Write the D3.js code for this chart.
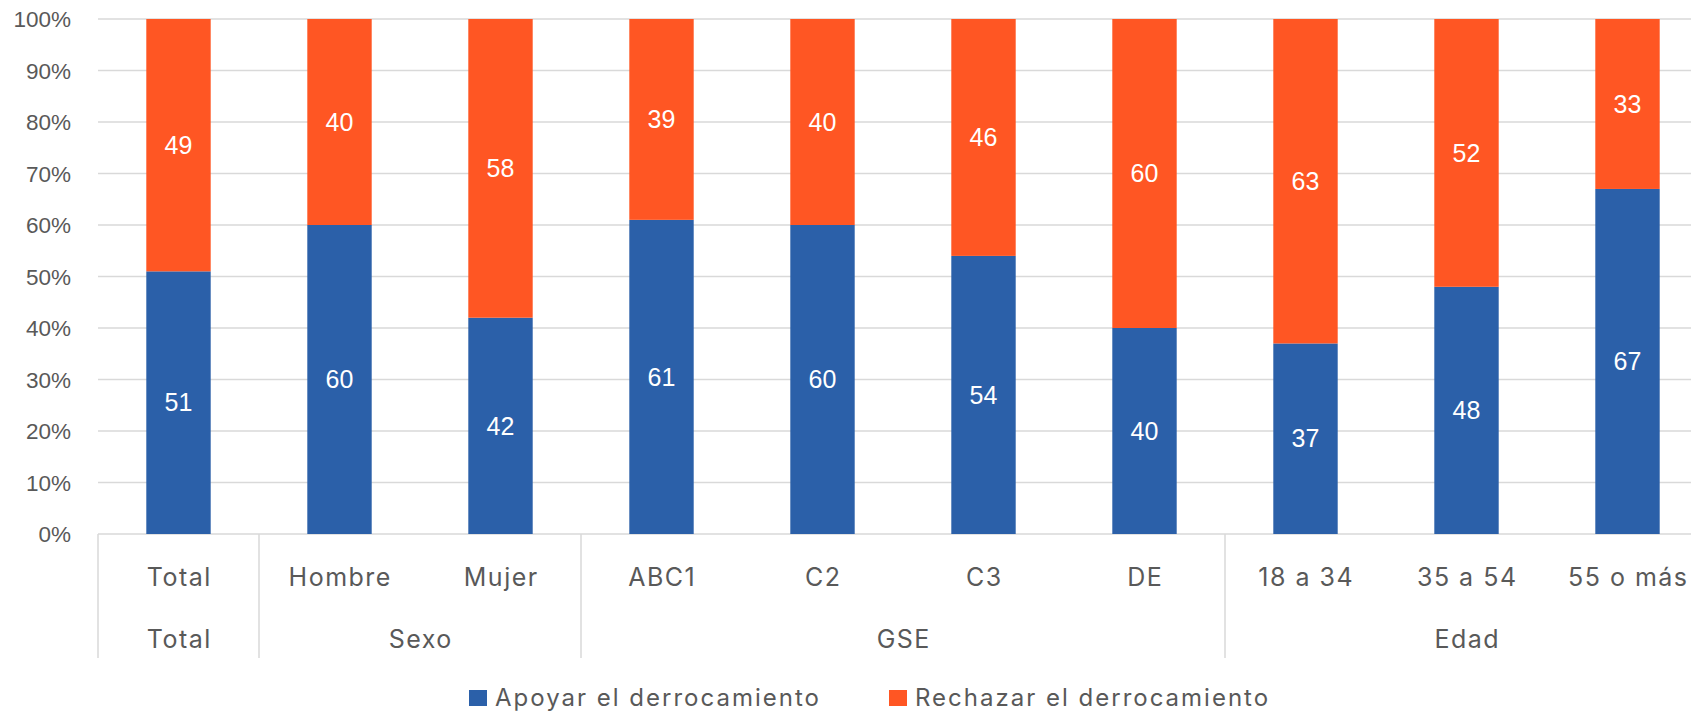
<!DOCTYPE html>
<html>
<head>
<meta charset="utf-8">
<script src="https://cdn.jsdelivr.net/npm/d3@7"></script>
<style>
  html, body { margin: 0; padding: 0; background: #fff; overflow: hidden; }
  svg { display: block; }
</style>
</head>
<body>
<svg id="chart" width="1691" height="714"></svg>
<script>
const categories = ["Total", "Hombre", "Mujer", "ABC1", "C2", "C3", "DE", "18 a 34", "35 a 54", "55 o más"];
const categoryGroups = ["Total", "Sexo", "Sexo", "GSE", "GSE", "GSE", "GSE", "Edad", "Edad", "Edad"];
const apoyar = [51, 60, 42, 61, 60, 54, 40, 37, 48, 67];
const rechazar = [49, 40, 58, 39, 40, 46, 60, 63, 52, 33];
const seriesNames = ["Apoyar el derrocamiento", "Rechazar el derrocamiento"];
const yTickValues = [0, 10, 20, 30, 40, 50, 60, 70, 80, 90, 100];
const yTickLabels = ["0%", "10%", "20%", "30%", "40%", "50%", "60%", "70%", "80%", "90%", "100%"];

(function () {
const colors = ["#2B60A9", "#FF5623"];
const gridColor = "#d9d9d9";
const textColor = "#595959";
const catFont = "Inter, 'Open Sans', sans-serif";
const numFont = "'Liberation Sans', Arial, sans-serif";

const svg = d3.select("#chart");
const plotLeft = 98, plotTop = 19, plotBottom = 534;
const step = 161;

const x = d3.scaleBand().domain(categories).range([plotLeft, plotLeft + step * categories.length])
  .paddingInner(0.6).paddingOuter(0.3);
const y = d3.scaleLinear().domain([0, 100]).range([plotBottom, plotTop]);

// gridlines
svg.append("g").selectAll("line").data(yTickValues).join("line")
  .attr("x1", plotLeft).attr("x2", 1691)
  .attr("y1", d => y(d)).attr("y2", d => y(d))
  .attr("stroke", gridColor).attr("stroke-width", 1.5);

// y axis labels
const yAxis = d3.axisLeft(y).tickValues(yTickValues).tickFormat((d, i) => yTickLabels[i]).tickSize(0).tickPadding(0);
const yg = svg.append("g").attr("transform", `translate(${plotLeft - 27},0)`).call(yAxis);
yg.select(".domain").remove();
yg.selectAll("text").attr("fill", textColor).attr("font-family", numFont).attr("font-size", 22.5).attr("dy", "0.35em");

// stacked data
const rows = categories.map((c, i) => ({ cat: c, a: apoyar[i], r: rechazar[i] }));
const stack = d3.stack().keys(["a", "r"]).offset(d3.stackOffsetExpand);
const stacked = stack(rows);

const layers = svg.append("g").selectAll("g").data(stacked).join("g")
  .attr("fill", (d, i) => colors[i]);
layers.selectAll("rect").data(d => d).join("rect")
  .attr("x", d => x(d.data.cat))
  .attr("width", x.bandwidth())
  .attr("y", d => y(d[1] * 100))
  .attr("height", d => y(d[0] * 100) - y(d[1] * 100));

// data labels
const labels = svg.append("g").selectAll("g").data(stacked).join("g");
labels.selectAll("text").data((d, si) => d.map(p => ({ p, si }))).join("text")
  .attr("x", d => x(d.p.data.cat) + x.bandwidth() / 2)
  .attr("y", d => y((d.p[0] + d.p[1]) / 2 * 100))
  .attr("dy", "0.35em")
  .attr("text-anchor", "middle")
  .attr("fill", "#fff")
  .attr("font-family", numFont)
  .attr("font-size", 25)
  .text(d => d.si === 0 ? d.p.data.a : d.p.data.r);

// category axis (multi-level)
const axisG = svg.append("g");
const groupNames = [];
const groupRanges = {};
categories.forEach((c, i) => {
  const g = categoryGroups[i];
  if (!(g in groupRanges)) { groupNames.push(g); groupRanges[g] = [i, i]; }
  groupRanges[g][1] = i;
});
const boundaryX = i => plotLeft + step * i;
const sepIdx = [0];
groupNames.forEach(g => sepIdx.push(groupRanges[g][1] + 1));
axisG.selectAll("line.sep").data(sepIdx).join("line")
  .attr("class", "sep")
  .attr("x1", d => boundaryX(d)).attr("x2", d => boundaryX(d))
  .attr("y1", plotBottom).attr("y2", 658)
  .attr("stroke", gridColor).attr("stroke-width", 1.5);

axisG.selectAll("text.cat").data(categories).join("text")
  .attr("class", "cat")
  .attr("x", d => x(d) + x.bandwidth() / 2 + 0.75)
  .attr("y", 586)
  .attr("text-anchor", "middle")
  .attr("fill", textColor)
  .attr("font-family", catFont)
  .attr("font-size", 25)
  .attr("letter-spacing", 1.5)
  .text(d => d);

axisG.selectAll("text.grp").data(groupNames).join("text")
  .attr("class", "grp")
  .attr("x", g => (boundaryX(groupRanges[g][0]) + boundaryX(groupRanges[g][1] + 1)) / 2 + 0.75)
  .attr("y", 648)
  .attr("text-anchor", "middle")
  .attr("fill", textColor)
  .attr("font-family", catFont)
  .attr("font-size", 25)
  .attr("letter-spacing", 1.5)
  .text(d => d);

// legend
const legendX = [469, 889];
const lg = svg.append("g").selectAll("g").data(seriesNames).join("g")
  .attr("transform", (d, i) => `translate(${legendX[i]},0)`);
lg.append("rect").attr("x", 0).attr("y", 690).attr("width", 18).attr("height", 16)
  .attr("fill", (d, i) => colors[i]);
lg.append("text").attr("x", 26).attr("y", 706)
  .attr("fill", textColor).attr("font-family", catFont).attr("font-size", 24)
  .attr("letter-spacing", 2)
  .text(d => d);
})();
</script>
</body>
</html>
